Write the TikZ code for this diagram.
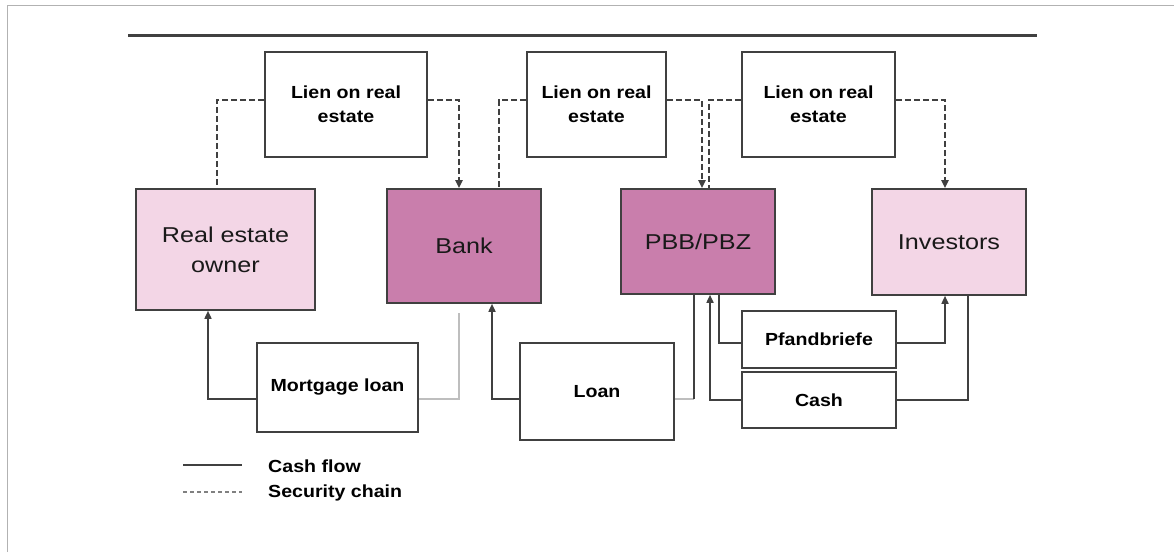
\documentclass[tikz,border=0pt]{standalone}
\usepackage{fontspec}
\setmainfont{Liberation Sans}
\newfontfamily\boxfont[FakeStretch=1.17]{Liberation Sans}
\newfontfamily\labelfont[FakeStretch=1.12]{Liberation Sans}
\usepackage{tikz}
\usetikzlibrary{arrows.meta,positioning}

\definecolor{pinklight}{RGB}{243,214,230}
\definecolor{pinkdark}{RGB}{201,126,172}
\definecolor{edgegray}{RGB}{64,64,64}
\definecolor{faintgray}{RGB}{190,190,190}

\tikzset{
  party/.style={draw=edgegray,line width=1.6pt,fill=pinklight,inner sep=0pt,align=center,
    text=black!90,font=\boxfont\fontsize{21.5}{30}\selectfont},
  lender/.style={party,fill=pinkdark},
  tag/.style={draw=edgegray,line width=1.6pt,fill=white,inner sep=0pt,align=center,
    font=\labelfont\bfseries\fontsize{17.5}{24}\selectfont},
  legendtext/.style={anchor=west,inner sep=0pt,font=\labelfont\bfseries\fontsize{17.5}{24}\selectfont},
  cashflow/.style={draw=edgegray,line width=1.6pt},
  faint/.style={draw=faintgray,line width=1.3pt},
  security/.style={draw=edgegray,line width=2pt,dash pattern=on 6pt off 3pt},
  tip/.style={-{Triangle[width=7pt,length=8pt]}},
}

\begin{document}
\begin{tikzpicture}[x=1pt,y=-1pt]
\useasboundingbox (0,0) rectangle (1174,552);
% frame and top rule
\draw[gray!60,line width=1pt] (7,552) -- (7,5) -- (1174,5);
\draw[edgegray,line width=3pt] (128,35) -- (1037,35);

% parties
\node[party,minimum width=179pt,minimum height=121pt] (owner) at (225.5,249.5) {Real estate\\owner};
\node[lender,minimum width=154pt,minimum height=114pt] (bank) at (464,246) {Bank};
\node[lender,minimum width=154pt,minimum height=105pt] (pbb) at (698,241.5) {PBB/PBZ};
\node[party,minimum width=154pt,minimum height=106pt] (investors) at (949,242) {Investors};

% liens
\node[tag,minimum width=162pt,minimum height=105pt] (lienA) at (346,104.5) {Lien on real\\estate};
\node[tag,minimum width=139pt,minimum height=105pt] (lienB) at (596.5,104.5) {Lien on real\\estate};
\node[tag,minimum width=153pt,minimum height=105pt] (lienC) at (818.5,104.5) {Lien on real\\estate};

% deals
\node[tag,minimum width=161pt,minimum height=89pt] (mortgage) at (337.5,387.5) {Mortgage loan};
\node[tag,minimum width=154pt,minimum height=97pt] (loan) at (597,391.5) {Loan};
\node[tag,minimum width=154pt,minimum height=57pt] (pfand) at (819,339.5) {Pfandbriefe};
\node[tag,minimum width=154pt,minimum height=56pt] (cash) at (819,400) {Cash};

% security chain
\draw[security] ([yshift=4.5pt]lienA.west) -| ([xshift=-8.5pt]owner.north);
\draw[security,tip] ([yshift=4.5pt]lienA.east) -| ([xshift=-5pt]bank.north);
\draw[security] ([yshift=4.5pt]lienB.west) -| ([xshift=35pt]bank.north);
\draw[security,tip] ([yshift=4.5pt]lienB.east) -| ([xshift=4pt]pbb.north);
\draw[security] ([yshift=4.5pt]lienC.west) -| ([xshift=11pt]pbb.north);
\draw[security,tip] ([yshift=4.5pt]lienC.east) -| ([xshift=-4pt]investors.north);

% cash flow
\draw[cashflow,tip] ([yshift=-11.5pt]mortgage.west) -| ([xshift=-17.5pt]owner.south);
\draw[faint] ([yshift=-11.5pt]mortgage.east) -| ([xshift=-5pt,yshift=-9pt]bank.south);
\draw[cashflow,tip] ([yshift=-7.5pt]loan.west) -| ([xshift=28pt]bank.south);
\draw[faint] ([yshift=-7.5pt]loan.east) -- +(19pt,0) coordinate (loanturn);
\draw[cashflow] (loanturn) -- (loanturn |- pbb.south);
\draw[cashflow,tip] (cash.west) -| ([xshift=12pt]pbb.south);
\draw[cashflow] ([yshift=-3.5pt]pfand.west) -| ([xshift=21pt]pbb.south);
\draw[cashflow,tip] ([yshift=-3.5pt]pfand.east) -| ([xshift=-4pt]investors.south);
\draw[cashflow] (cash.east) -| ([xshift=19pt]investors.south);

% legend
\coordinate (cfstart) at (183,465);
\coordinate (cfend) at (242,465);
\coordinate (scstart) at (183,492);
\coordinate (scend) at (242,492);
\draw[cashflow,line width=2pt] (cfstart) -- (cfend);
\draw[draw=gray,line width=1.2pt,dash pattern=on 4pt off 3pt] (scstart) -- (scend);
\node[legendtext] (cftext) at (268,466) {Cash flow};
\node[legendtext] (sctext) at (268,493) {Security chain};
\end{tikzpicture}
\end{document}
